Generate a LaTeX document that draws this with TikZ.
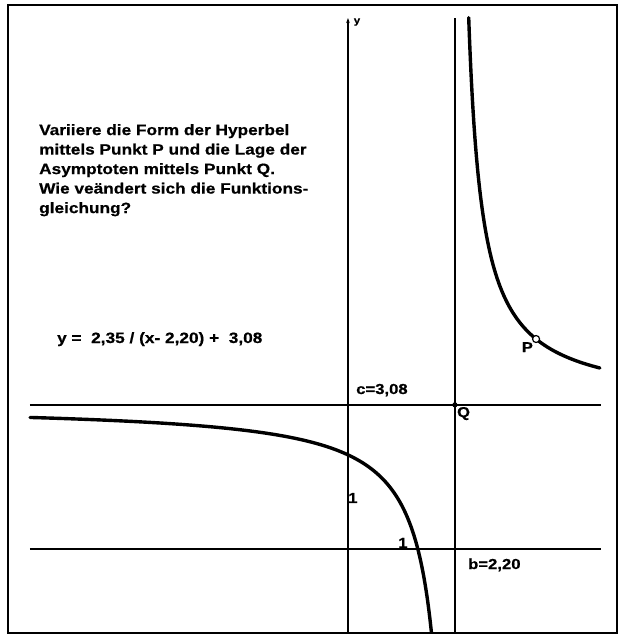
\documentclass[tikz,border=0pt]{standalone}
\usepackage{fontspec}
\setmainfont{Liberation Sans}
\newfontfamily\labelfont[FakeStretch=1.15,FakeBold=0.6]{Liberation Sans Bold}
\usetikzlibrary{arrows.meta}

\begin{document}
\begin{tikzpicture}[x=48.6pt,y=46.8pt,font=\labelfont\fontsize{14.5}{19.5}\selectfont,
  axisline/.style={line width=1.4pt},
  graphline/.style={line width=3.4pt,line cap=round},
  bigtext/.style={font=\labelfont\fontsize{15}{19.5}\selectfont}]
\useasboundingbox (-7.160,-1.944) rectangle (5.679,11.731);
\draw[line width=2.4pt] (-6.996,-1.795) rectangle (5.535,11.624);
% axes and asymptotes
\coordinate (Q) at (2.2,3.08);
\coordinate (P) at (3.87,4.487);
\draw[axisline] (-6.543,0) -- (5.206,0);
\draw[axisline,-{Stealth[length=5pt,width=3.5pt]}] (0,-1.774) -- (0,11.346);
\draw[axisline] (-6.543,3.08) -- (5.206,3.08);
\draw[axisline] (2.2,-1.774) -- (2.2,11.346);
\node[font=\labelfont\fontsize{10}{12}\selectfont] (ylab) at (0.185,11.26) {y};
% hyperbola branches
\draw[graphline,domain=-0.7246:2.168,samples=120,smooth] plot ({2.2-exp(\x)},{-2.35/exp(\x)+3.08});
\draw[graphline,domain=-1.2587:1.0936,samples=120,smooth] plot ({2.2+exp(\x)},{2.35/exp(\x)+3.08});
\fill (Q) circle (2.6pt);
\draw[line width=1.2pt,fill=white] (P) circle (3.5pt);
% labels
\node[bigtext,anchor=north west,align=left,inner sep=0pt] (task) at (-6.358,9.081) {Variiere die Form der Hyperbel\\mittels Punkt P und die Lage der\\Asymptoten mittels Punkt Q.\\Wie veändert sich die Funktions-\\gleichung?};
\node[bigtext,anchor=base west,inner sep=0pt] (eq) at (-5.988,4.402) {y = \ 2,35 / (x- 2,20) + \ 3,08};
\node[anchor=base west,inner sep=0pt] (clab) at (0.165,3.312) {c=3,08};
\node[anchor=base west,inner sep=0pt] (blab) at (2.469,-0.427) {b=2,20};
\node[below right,inner sep=2pt] (qlab) at (Q) {Q};
\node[below left,inner sep=3pt] (plab) at (P) {P};
\node (oney) at (0.10,1.09) {1};
\node (onex) at (1.13,0.13) {1};
\end{tikzpicture}
\end{document}
